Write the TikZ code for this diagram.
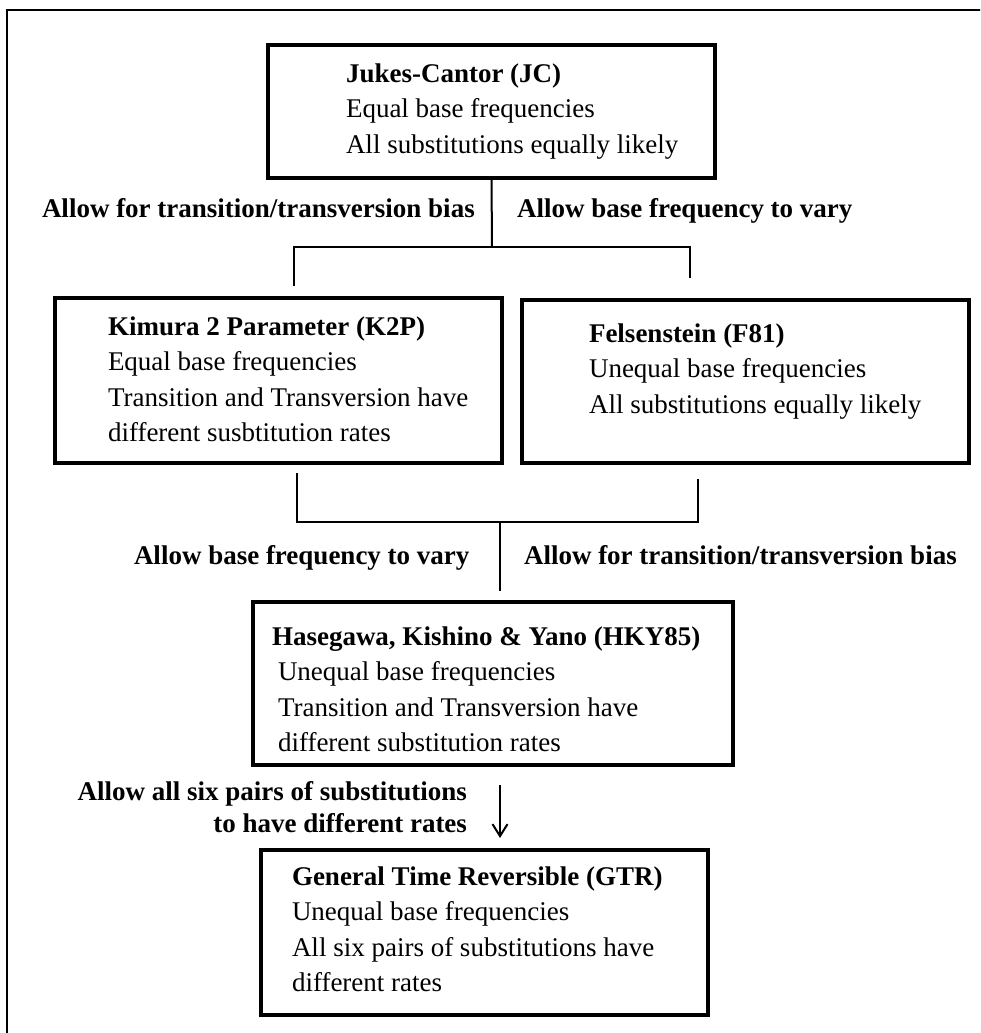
\documentclass[tikz,border=0pt]{standalone}
\usepackage{fontspec}
\setmainfont{Liberation Serif}
\usetikzlibrary{arrows.meta}
\begin{document}
\begin{tikzpicture}[x=1pt,y=-1pt,
  modelbox/.style n args={2}{draw, line width=4pt, minimum width=#1, minimum height=#2,
     inner sep=0pt, outer sep=0pt, anchor=north west},
  modeltext/.style={anchor=north west, align=left, inner sep=0pt, outer sep=0pt,
     font=\fontsize{27}{35.6}\selectfont},
  steplabel/.style={anchor=base west, inner sep=0pt, outer sep=0pt,
     font=\fontsize{27}{32}\selectfont\bfseries},
  link/.style={line width=2pt},
  linkarrow/.style={line width=2pt, -{Straight Barb[length=12pt,width=15pt,line width=2pt]}}]
\clip (0,0) rectangle (980,1033);
\fill[white] (0,0) rectangle (980,1033);
% outer frame (extends beyond the right and bottom edges)
\draw[line width=2.5pt] (7,10) rectangle (1010,1070);

% boxes
\node[modelbox={447pt}{133pt}] (jc)  at (268,45)  {};
\node[modelbox={447pt}{165pt}] (k2p) at (55,298)  {};
\node[modelbox={447pt}{163pt}] (f81) at (522,300) {};
\node[modelbox={480pt}{163pt}] (hky) at (253,602) {};
\node[modelbox={447pt}{165pt}] (gtr) at (261,850) {};

% box texts (top = first baseline - 0.7*35.6)
\node[modeltext] (jct) at (346,57.1)
  {\strut\textbf{Jukes-Cantor (JC)}\\Equal base frequencies\\All substitutions equally likely};
\node[modeltext] (k2pt) at (108,310.1)
  {\strut\textbf{Kimura 2 Parameter (K2P)}\\Equal base frequencies\\Transition and Transversion have\\different susbtitution rates};
\node[modeltext] (f81t) at (589,317.1)
  {\strut\textbf{Felsenstein (F81)}\\Unequal base frequencies\\All substitutions equally likely};
\node[modeltext] (hkyt) at (272,620.1)
  {\strut\textbf{Hasegawa, Kishino \& Yano (HKY85)}\\\hspace*{6pt}Unequal base frequencies\\\hspace*{6pt}Transition and Transversion have\\\hspace*{6pt}different substitution rates};
\node[modeltext] (gtrt) at (292,860.1)
  {\strut\textbf{General Time Reversible (GTR)}\\Unequal base frequencies\\All six pairs of substitutions have\\different rates};

% step labels
\node[steplabel] (lab1) at (42,217)  {Allow for transition/transversion bias};
\node[steplabel] (lab2) at (517,217) {Allow base frequency to vary};
\node[steplabel] (lab3) at (134,564) {Allow base frequency to vary};
\node[steplabel] (lab4) at (524,564) {Allow for transition/transversion bias};
\node[anchor=north east, align=right, inner sep=0pt, outer sep=0pt,
      font=\fontsize{27}{32}\selectfont\bfseries] (lab5) at (467,777.6)
  {\strut Allow all six pairs of substitutions\\to have different rates};

% connectors: JC -> K2P / F81
\coordinate (s1)    at (492,247);
\coordinate (s1l)   at (294,247);
\coordinate (s1r)   at (690,247);
\coordinate (k2pin) at (294,286);
\coordinate (f81in) at (690,278);
\draw[link] (jc.south) -- (s1);
\draw[link] (k2pin) -- (s1l) -- (s1r) -- (f81in);

% connectors: K2P / F81 -> HKY
\coordinate (k2pout) at (297,473);
\coordinate (f81out) at (698,479);
\coordinate (m2l)    at (297,522);
\coordinate (m2r)    at (698,522);
\coordinate (m2)     at (500,522);
\coordinate (hkyin)  at (500,591);
\draw[link] (k2pout) -- (m2l) -- (m2r) -- (f81out);
\draw[link] (m2) -- (hkyin);

% arrow HKY -> GTR
\coordinate (hkyout) at (500,785);
\coordinate (gtrin)  at (500,838);
\draw[linkarrow] (hkyout) -- (gtrin);
\end{tikzpicture}
\end{document}
